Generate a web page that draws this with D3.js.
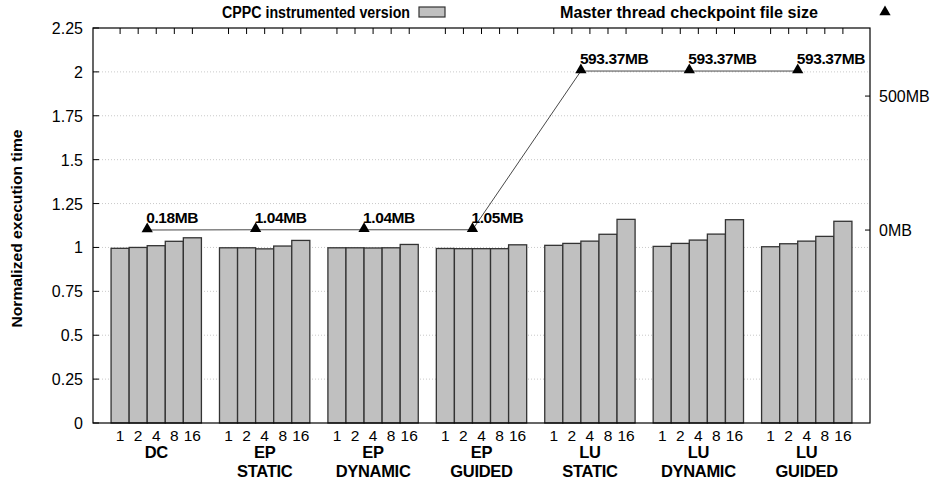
<!DOCTYPE html>
<html>
<head>
<meta charset="utf-8">
<script src="https://cdn.jsdelivr.net/npm/d3@7"></script>
<style>
  body { margin: 0; background: #fff; }
  text { font-family: "Liberation Sans", Arial, sans-serif; }
</style>
</head>
<body>
<script>
// values
let groups = [["DC"], ["EP", "STATIC"], ["EP", "DYNAMIC"], ["EP", "GUIDED"],
              ["LU", "STATIC"], ["LU", "DYNAMIC"], ["LU", "GUIDED"]];
let threads = ["1", "2", "4", "8", "16"];
let times = [
  [0.995, 1.0, 1.01, 1.035, 1.055],
  [0.998, 0.998, 0.992, 1.008, 1.04],
  [0.998, 0.998, 0.997, 0.998, 1.017],
  [0.994, 0.993, 0.993, 0.993, 1.015],
  [1.012, 1.023, 1.036, 1.075, 1.16],
  [1.006, 1.023, 1.042, 1.076, 1.158],
  [1.004, 1.021, 1.036, 1.063, 1.149]
];
let ckptSize = [0.18, 1.04, 1.04, 1.05, 593.37, 593.37, 593.37];
let yTicks = [0, 0.25, 0.5, 0.75, 1, 1.25, 1.5, 1.75, 2, 2.25];
let y2Ticks = [0, 500];

let width = 934;
let height = 487;
let svg = d3.select("body").append("svg")
                           .attr("width", width)
                           .attr("height", height);

let mLeft = 93, mRight = 870, mTop = 28, mBottom = 423;
let slotsPerGroup = 6;  // 5 bars + 1 gap
let nSlots = groups.length * slotsPerGroup + 1;

let x = d3.scaleLinear().domain([0, nSlots]).range([mLeft, mRight]);
let y = d3.scaleLinear().domain([0, 2.25]).range([mBottom, mTop]);
let y2 = d3.scaleLinear().domain([-720, 754]).range([mBottom, mTop]);
let slot = x(1) - x(0);

function barSlot(g, j) { return 1 + g * slotsPerGroup + j; }

// grid
svg.append("g").selectAll("line").data(yTicks.filter(d => d > 0 && d < 2.25)).enter()
   .append("line")
   .attr("x1", mLeft).attr("x2", mRight)
   .attr("y1", d => y(d)).attr("y2", d => y(d))
   .attr("stroke", "#bbb")
   .attr("stroke-width", 0.8)
   .attr("stroke-dasharray", "1,2");

// bars
let flat = [];
times.forEach((row, g) => row.forEach((v, j) => flat.push({ g: g, j: j, v: v })));
svg.append("g").selectAll("rect").data(flat).enter().append("rect")
   .attr("x", d => x(barSlot(d.g, d.j)))
   .attr("y", d => y(d.v))
   .attr("width", slot)
   .attr("height", d => y(0) - y(d.v))
   .attr("fill", "#c0c0c0")
   .attr("stroke", "#333")
   .attr("stroke-width", 1.3);

// checkpoint size line + triangles
let ckpt = ckptSize.map((v, g) => ({ sx: barSlot(g, 2), v: v }));
svg.append("path").datum(ckpt)
   .attr("d", d3.line().x(d => x(d.sx)).y(d => y2(d.v)))
   .attr("fill", "none")
   .attr("stroke", "#333")
   .attr("stroke-width", 0.9);

let tri = d3.symbol().type(d3.symbolTriangle).size(55);
svg.append("g").selectAll("path").data(ckpt).enter().append("path")
   .attr("d", tri)
   .attr("transform", d => `translate(${x(d.sx)},${y2(d.v) - 1})`)
   .attr("fill", "#000");

svg.append("g").selectAll("text").data(ckpt).enter().append("text")
   .attr("x", d => x(d.sx) - 1)
   .attr("y", d => y2(d.v) - 7)
   .attr("font-size", 15.5)
   .attr("font-weight", "bold")
   .attr("letter-spacing", -0.4)
   .text(d => d3.format(".2f")(d.v) + "MB");

// border
svg.append("rect")
   .attr("x", mLeft).attr("y", mTop)
   .attr("width", mRight - mLeft).attr("height", mBottom - mTop)
   .attr("fill", "none")
   .attr("stroke", "#000")
   .attr("stroke-width", 1.2);

// left axis
svg.append("g").selectAll("line").data(yTicks).enter().append("line")
   .attr("x1", mLeft).attr("x2", mLeft + 6)
   .attr("y1", d => y(d)).attr("y2", d => y(d))
   .attr("stroke", "#000");
svg.append("g").selectAll("text").data(yTicks).enter().append("text")
   .attr("x", mLeft - 10)
   .attr("y", d => y(d) + 6)
   .attr("text-anchor", "end")
   .attr("font-size", 16)
   .text(d => String(d));

// right axis
svg.append("g").selectAll("line").data(y2Ticks).enter().append("line")
   .attr("x1", mRight - 5).attr("x2", mRight)
   .attr("y1", d => y2(d)).attr("y2", d => y2(d))
   .attr("stroke", "#000");
svg.append("g").selectAll("text").data(y2Ticks).enter().append("text")
   .attr("x", mRight + 9)
   .attr("y", d => y2(d) + 6)
   .attr("font-size", 16)
   .text(d => d + "MB");

// x ticks (mirrored on top) and thread labels
svg.append("g").selectAll("line").data(flat).enter().append("line")
   .attr("x1", d => x(barSlot(d.g, d.j) + 0.5)).attr("x2", d => x(barSlot(d.g, d.j) + 0.5))
   .attr("y1", mTop).attr("y2", mTop + 6)
   .attr("stroke", "#000");
svg.append("g").selectAll("text").data(flat).enter().append("text")
   .attr("x", d => x(barSlot(d.g, d.j) + 0.5))
   .attr("y", mBottom + 18)
   .attr("text-anchor", "middle")
   .attr("font-size", 15.5)
   .text(d => threads[d.j]);

// group labels
let gl = svg.append("g").selectAll("text").data(groups).enter().append("text")
   .attr("x", (d, g) => x(barSlot(g, 2.5)))
   .attr("y", mBottom + 35)
   .attr("text-anchor", "middle")
   .attr("font-size", 16.5)
   .attr("font-weight", "bold")
   .attr("letter-spacing", -0.3);
gl.selectAll("tspan").data(d => d).enter().append("tspan")
  .attr("x", function () { return d3.select(this.parentNode).attr("x"); })
  .attr("dy", (d, i) => i === 0 ? 0 : 19)
  .text(d => d);

// y title
svg.append("text")
   .attr("transform", `translate(22,${(mTop + mBottom) / 2 + 3}) rotate(-90)`)
   .attr("text-anchor", "middle")
   .attr("font-size", 15)
   .attr("font-weight", "bold")
   .attr("textLength", 198)
   .attr("lengthAdjust", "spacingAndGlyphs")
   .text("Normalized execution time");

// legend
svg.append("text")
   .attr("x", 222).attr("y", 18)
   .attr("font-size", 16)
   .attr("font-weight", "bold")
   .attr("textLength", 188)
   .attr("lengthAdjust", "spacingAndGlyphs")
   .text("CPPC instrumented version");
svg.append("rect")
   .attr("x", 419).attr("y", 7)
   .attr("width", 26).attr("height", 10)
   .attr("fill", "#c0c0c0")
   .attr("stroke", "#333")
   .attr("stroke-width", 1.2);
svg.append("text")
   .attr("x", 560).attr("y", 18)
   .attr("font-size", 16)
   .attr("font-weight", "bold")
   .attr("textLength", 258)
   .attr("lengthAdjust", "spacingAndGlyphs")
   .text("Master thread checkpoint file size");
svg.append("path")
   .attr("d", tri)
   .attr("transform", "translate(885,12)")
   .attr("fill", "#000");
</script>
</body>
</html>
